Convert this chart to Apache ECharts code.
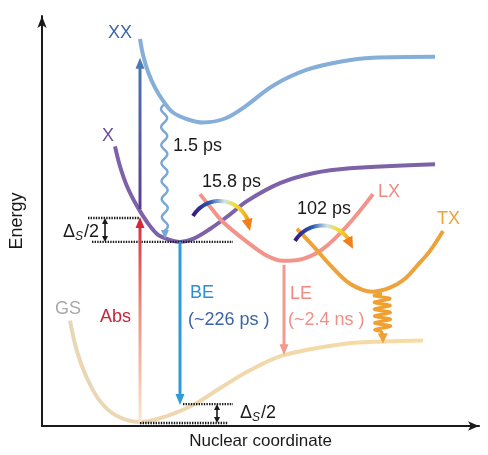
<!DOCTYPE html>
<html><head><meta charset="utf-8">
<script src="https://cdn.jsdelivr.net/npm/echarts@6/dist/echarts.min.js"></script>
<style>html,body{margin:0;padding:0;background:#fff}#c{width:488px;height:455px}</style>
</head><body><div id="c"></div>
<script>
// Potential energy curves (x = nuclear coordinate, y = energy)
const curveXX = [[98,389],[101,373],[106,356],[113,340],[121,327],[131,315],[146,308],[161,305],[183,309],[203,321],[231,342],[265,358],[298,366],[331,370],[393,371]];
const curveX  = [[73,281],[78,261],[85,241],[95,221],[105,205],[115,193],[125,188],[138,185],[151,188],[168,198],[186,211],[205,226],[238,244],[271,254],[308,259],[393,263]];
const curveLX = [[158,233],[170,218],[181,205],[205,185],[225,171],[241,166],[261,168],[281,178],[305,201],[331,233]];
const curveTX = [[255,198],[271,181],[288,162],[308,143],[331,135],[348,139],[363,148],[375,161],[388,176],[401,196]];
const curveGS = [[28,106],[35,75],[45,48],[58,25],[75,10],[98,4],[125,10],[151,21],[178,38],[208,56],[241,71],[298,82],[341,85],[381,86]];

// Vertical transitions: [x, yFrom, yTo]
const absArrow = [98, 4, 210];
const xxArrow  = [98, 218, 370];
const beArrow  = [138, 185, 21];
const leArrow  = [242, 162, 71];
// Relaxations: [xFrom, yFrom, xTo, yTo]
const waveArrow   = [122, 323, 123, 188];
const springArrow = [340, 133, 341, 83];
// Curved transfer arrows: [xStart, yStart, xPeak, yPeak, xEnd, yEnd]
const transfer1 = [151, 211, 175, 226, 208, 196];
const transfer2 = [253, 186, 275, 201, 311, 178];
// Dotted energy levels: [y, xFrom, xTo]
const levels = [[209, 46, 98], [185, 50, 191], [22, 141, 191], [3, 98, 186]];
// Stokes gaps: [x, yLow, yHigh]
const gaps = [[63, 185, 209], [175, 3, 22]];

// Text
const stateNames = ['XX', 'X', 'LX', 'TX', 'GS'];
const rateTexts = ['1.5 ps', '15.8 ps', '102 ps'];
const emissionTexts = ['Abs', 'BE', '(~226 ps )', 'LE', '(~2.4 ns )'];
const gapText = 'Δ{s|S}/2';

const FONT = '"Liberation Sans", Arial, Helvetica, sans-serif';

const labelItems = [
  {t: stateNames[0], p: [78, 395], c: '#3f67a6', a: 'center'},
  {t: stateNames[1], p: [66, 291], c: '#6a4c9c', a: 'center'},
  {t: stateNames[2], p: [336, 235], c: '#f08a82', a: 'left'},
  {t: stateNames[3], p: [395, 208], c: '#f0a232', a: 'left'},
  {t: stateNames[4], p: [13, 118], c: '#a9a9a9', a: 'left'},
  {t: rateTexts[0], p: [131, 281], c: '#1a1a1a', a: 'left'},
  {t: rateTexts[1], p: [160, 245], c: '#1a1a1a', a: 'left'},
  {t: rateTexts[2], p: [255, 218], c: '#1a1a1a', a: 'left'},
  {t: emissionTexts[0], p: [58, 109], c: '#c8233a', a: 'left'},
  {t: emissionTexts[1], p: [148, 134], c: '#2b8fd0', a: 'left'},
  {t: emissionTexts[2], p: [146, 106], c: '#3c63a8', a: 'left'},
  {t: emissionTexts[3], p: [248, 133], c: '#f08a82', a: 'left'},
  {t: emissionTexts[4], p: [246, 106], c: '#f08f87', a: 'left'},
  {t: gapText, p: [21, 195], c: '#1a1a1a', a: 'left'},
  {t: gapText, p: [198, 13], c: '#1a1a1a', a: 'left'}
];

function head(tip, from, len, wid, color) {
  const dx = tip[0] - from[0], dy = tip[1] - from[1];
  const d = Math.hypot(dx, dy) || 1, ux = dx / d, uy = dy / d;
  const bx = tip[0] - ux * len, by = tip[1] - uy * len;
  return {type: 'polygon', shape: {points: [tip, [bx - uy * wid / 2, by + ux * wid / 2], [bx + uy * wid / 2, by - ux * wid / 2]]}, style: {fill: color}};
}
function base(tip, from, len) {
  const dx = tip[0] - from[0], dy = tip[1] - from[1];
  const d = Math.hypot(dx, dy) || 1;
  return [tip[0] - dx / d * len, tip[1] - dy / d * len];
}

const chart = echarts.init(document.getElementById('c'));

const vertSpecs = [
  {v: absArrow, stops: [[0, '#fbe6cf'], [0.55, '#ec8f7e'], [1, '#d6263c']], headC: '#d6263c'},
  {v: xxArrow, stops: [[0, '#5c3b91'], [1, '#4b79b5']], headC: '#4b79b5'},
  {v: beArrow, stops: [[0, '#2f9ad8'], [1, '#2f9ad8']], headC: '#2f9ad8'},
  {v: leArrow, stops: [[0, '#f29a90'], [1, '#f29a90']], headC: '#f29a90'}
];

function renderVert(params, api) {
  const s = vertSpecs[params.dataIndex];
  const p1 = api.coord([s.v[0], s.v[1]]), p2 = api.coord([s.v[0], s.v[2]]);
  const b = base(p2, p1, 9);
  const grad = new echarts.graphic.LinearGradient(p1[0], p1[1], p2[0], p2[1],
    s.stops.map(q => ({offset: q[0], color: q[1]})), true);
  return {type: 'group', children: [
    {type: 'line', shape: {x1: p1[0], y1: p1[1], x2: b[0], y2: b[1]}, style: {stroke: grad, lineWidth: 3}},
    head(p2, p1, 11, 9, s.headC)
  ]};
}

function renderRelax(params, api) {
  const v = params.dataIndex === 0 ? waveArrow : springArrow;
  const p1 = api.coord([v[0], v[1]]), p2 = api.coord([v[2], v[3]]);
  const dx = p2[0] - p1[0], dy = p2[1] - p1[1];
  const L = Math.hypot(dx, dy), ux = dx / L, uy = dy / L, nx = -uy, ny = ux;
  const pts = [];
  if (params.dataIndex === 0) {
    const run = L - 8, wl = 18, amp = 3;
    for (let t = 0; t <= run; t += 1) {
      const o = amp * Math.sin(2 * Math.PI * t / wl);
      pts.push([p1[0] + ux * t + nx * o, p1[1] + uy * t + ny * o]);
    }
    return {type: 'group', children: [
      {type: 'polyline', shape: {points: pts}, style: {stroke: '#78a6d6', lineWidth: 2.4, fill: null}},
      head(p2, [p2[0] - ux * 10, p2[1] - uy * 10], 9, 8, '#78a6d6')
    ]};
  } else {
    const coil = L - 12, per = coil / 5.5, amp = 8;
    for (let t = 0; t <= coil; t += 0.5) {
      const o = amp * Math.sin(2 * Math.PI * t / per);
      pts.push([p1[0] + ux * t + nx * o, p1[1] + uy * t + ny * o]);
    }
    pts.push(base(p2, p1, 9));
    return {type: 'group', children: [
      {type: 'polyline', shape: {points: pts}, style: {stroke: '#f0a030', lineWidth: 3.2, fill: null, lineJoin: 'round'}},
      head(p2, p1, 10, 10, '#f0a030')
    ]};
  }
}

function renderTransfer(params, api) {
  const v = params.dataIndex === 0 ? transfer1 : transfer2;
  const s = api.coord([v[0], v[1]]), pk = api.coord([v[2], v[3]]), e = api.coord([v[4], v[5]]);
  // circle through the three points
  const ax = s[0], ay = s[1], bx = pk[0], by = pk[1], cx = e[0], cy = e[1];
  const D = 2 * (ax * (by - cy) + bx * (cy - ay) + cx * (ay - by));
  const ox = ((ax*ax+ay*ay)*(by-cy) + (bx*bx+by*by)*(cy-ay) + (cx*cx+cy*cy)*(ay-by)) / D;
  const oy = ((ax*ax+ay*ay)*(cx-bx) + (bx*bx+by*by)*(ax-cx) + (cx*cx+cy*cy)*(bx-ax)) / D;
  const r = Math.hypot(ax - ox, ay - oy);
  const a0 = Math.atan2(ay - oy, ax - ox), a1 = Math.atan2(by - oy, bx - ox), a2 = Math.atan2(cy - oy, cx - ox);
  const norm = a => { while (a < 0) a += 2 * Math.PI; while (a >= 2 * Math.PI) a -= 2 * Math.PI; return a; };
  let d02 = norm(a2 - a0); const d01 = norm(a1 - a0);
  if (d01 > d02) d02 = d02 - 2 * Math.PI;
  const sign = Math.sign(d02), span = Math.abs(d02) - 10 / r;
  const pts = [];
  for (let i = 0; i <= 40; i++) {
    const a = a0 + sign * span * i / 40;
    pts.push([ox + r * Math.cos(a), oy + r * Math.sin(a)]);
  }
  const grad = new echarts.graphic.LinearGradient(ax, 0, cx, 0, [
    {offset: 0, color: '#3b1580'}, {offset: 0.3, color: '#2a5bb0'}, {offset: 0.55, color: '#cfe4e8'},
    {offset: 0.75, color: '#f5dc2a'}, {offset: 1, color: '#f39a1c'}], true);
  return {type: 'group', children: [
    {type: 'polyline', shape: {points: pts}, style: {stroke: grad, lineWidth: 4, fill: null}},
    head(e, pts[pts.length - 3], 12, 11, '#f07f1a')
  ]};
}

function renderLevel(params, api) {
  const l = levels[params.dataIndex];
  const p1 = api.coord([l[1], l[0]]), p2 = api.coord([l[2], l[0]]);
  return {type: 'line', shape: {x1: p1[0], y1: p1[1], x2: p2[0], y2: p2[1]},
    style: {stroke: '#1a1a1a', lineWidth: 2.4, lineDash: [1.4, 1.2]}};
}

function renderGap(params, api) {
  const g = gaps[params.dataIndex];
  const lo = api.coord([g[0], g[1]]), hi = api.coord([g[0], g[2]]);
  const bl = base(lo, hi, 5), bh = base(hi, lo, 5);
  return {type: 'group', children: [
    {type: 'line', shape: {x1: bh[0], y1: bh[1], x2: bl[0], y2: bl[1]}, style: {stroke: '#1a1a1a', lineWidth: 1.6}},
    head(lo, hi, 6, 6, '#1a1a1a'), head(hi, lo, 6, 6, '#1a1a1a')
  ]};
}

function renderLabel(params, api) {
  const it = labelItems[params.dataIndex];
  const p = api.coord(it.p);
  return {type: 'text', x: p[0], y: p[1], style: {
    text: it.t, fill: it.c, font: '18px ' + FONT, align: it.a, verticalAlign: 'middle',
    rich: {s: {fontSize: 12, fontStyle: 'italic', fontFamily: FONT, fill: it.c, padding: [9, 1, 0, 0]}}
  }};
}

function curve(name, data, color) {
  return {type: 'line', name, data, smooth: 0.35, symbol: 'none', silent: true, z: 2,
    lineStyle: {color, width: 4, cap: 'butt'}};
}
function custom(render, n, z) {
  return {type: 'custom', renderItem: render, data: new Array(n).fill(0).map((_, i) => [i, 0]),
    silent: true, z: z, clip: false};
}

chart.setOption({
  animation: false,
  grid: {left: 42, right: 9, top: 16, bottom: 27},
  xAxis: {type: 'value', min: 0, max: 437, name: 'Nuclear coordinate', nameLocation: 'middle', nameGap: 7,
    nameTextStyle: {fontSize: 17, color: '#1a1a1a', fontFamily: FONT},
    axisLine: {show: true, onZero: false, symbol: ['none', 'arrow'], symbolSize: [7, 11], lineStyle: {color: '#1a1a1a', width: 2}},
    axisTick: {show: false}, axisLabel: {show: false}, splitLine: {show: false}},
  yAxis: {type: 'value', min: 0, max: 412, name: 'Energy', nameLocation: 'middle', nameGap: 16,
    nameTextStyle: {fontSize: 18, color: '#1a1a1a', fontFamily: FONT},
    axisLine: {show: true, onZero: false, symbol: ['none', 'arrow'], symbolSize: [7, 12], lineStyle: {color: '#1a1a1a', width: 2}},
    axisTick: {show: false}, axisLabel: {show: false}, splitLine: {show: false}},
  series: [
    {type: 'line', name: 'GS', data: curveGS, smooth: 0.35, symbol: 'none', silent: true, z: 2,
      lineStyle: {width: 4, color: new echarts.graphic.LinearGradient(0, 0, 1, 0, [{offset: 0, color: '#e8d6b6'}, {offset: 1, color: '#f9dba2'}])}},
    curve('XX', curveXX, '#85aed8'),
    curve('X', curveX, '#7d62a9'),
    curve('LX', curveLX, '#f2948a'),
    curve('TX', curveTX, '#eea23a'),
    custom(renderLevel, levels.length, 5),
    custom(renderGap, gaps.length, 5),
    custom(renderVert, vertSpecs.length, 6),
    custom(renderRelax, 2, 6),
    custom(renderTransfer, 2, 7),
    custom(renderLabel, labelItems.length, 8)
  ]
});
</script></body></html>
